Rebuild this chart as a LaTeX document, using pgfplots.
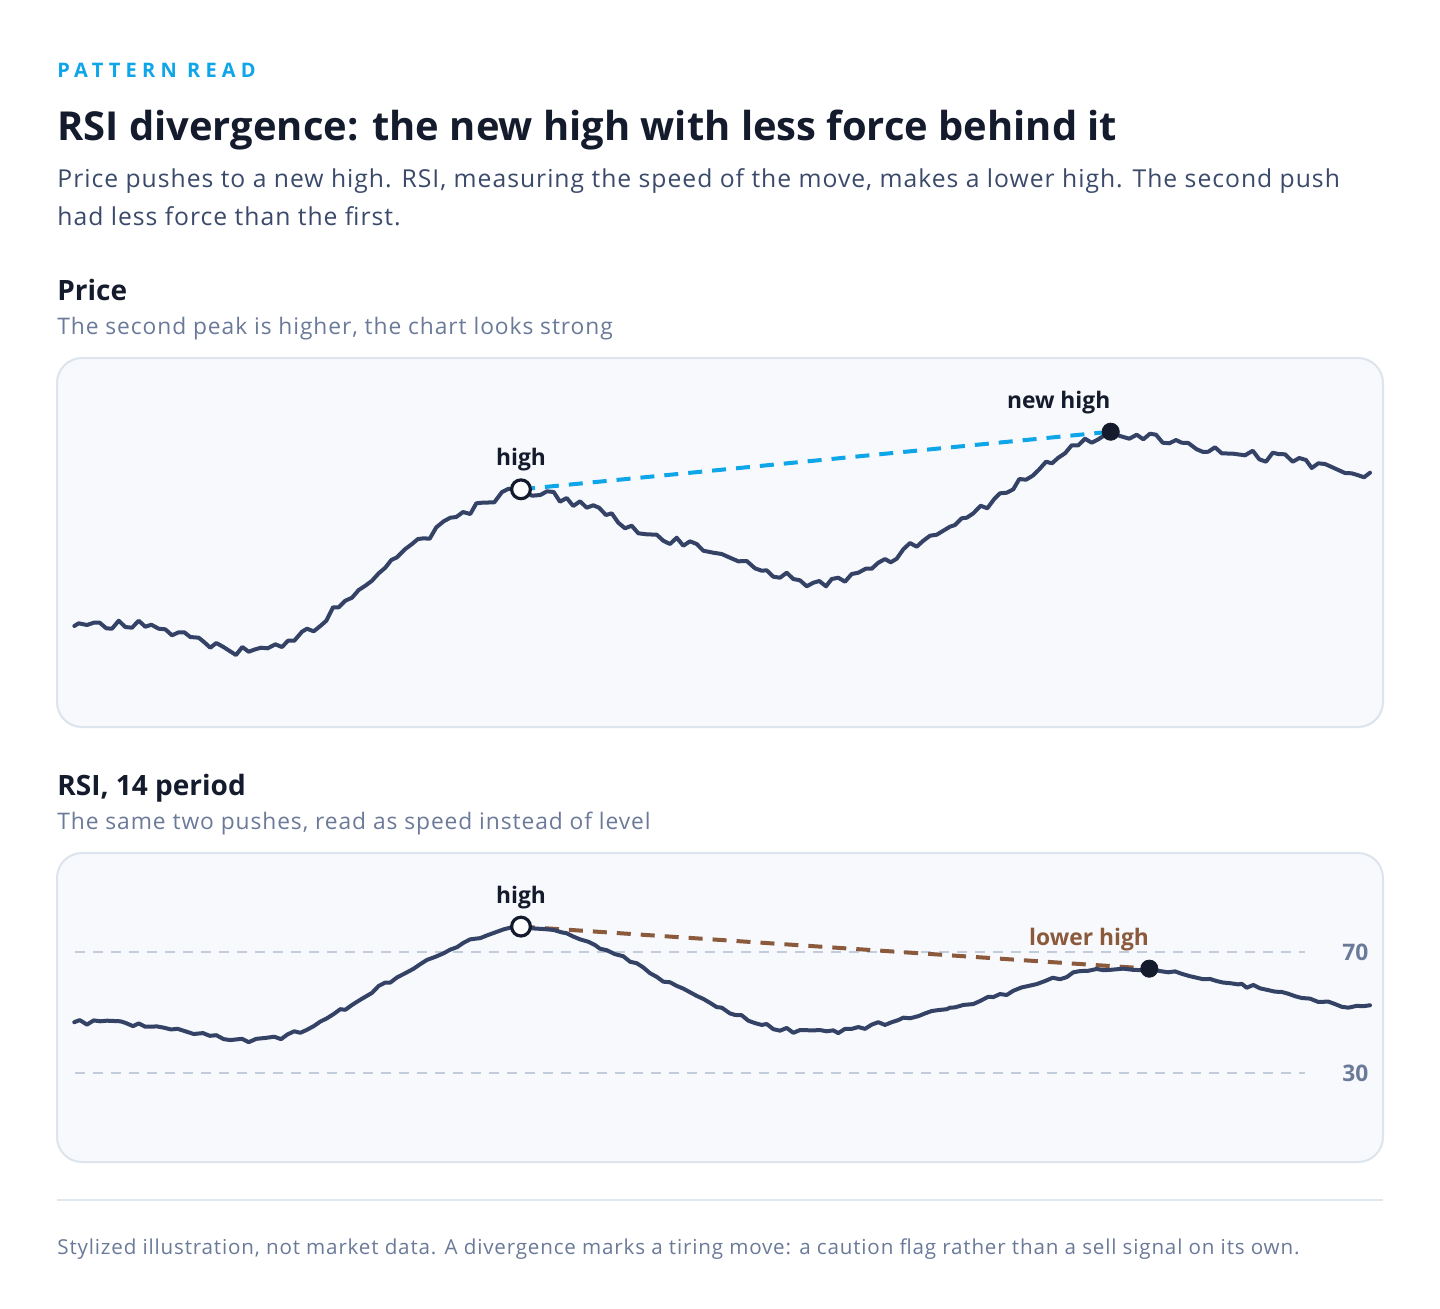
\documentclass[border=0pt]{standalone}
\usepackage{fontspec}
\setmainfont{Open Sans}
\newfontfamily\spacedfont[LetterSpace=26]{Open Sans}
\newfontfamily\trackfont[LetterSpace=4]{Open Sans}
\usepackage{pgfplots}
\pgfplotsset{compat=1.18}
\definecolor{accent}{HTML}{0EA5E9}
\definecolor{titlec}{HTML}{141B2D}
\definecolor{subc}{HTML}{3B4A6B}
\definecolor{mutedc}{HTML}{6B7A99}
\definecolor{linec}{HTML}{344266}
\definecolor{markc}{HTML}{141B2D}
\definecolor{brownc}{HTML}{8B5A3C}
\definecolor{refc}{HTML}{C2CBDA}
\definecolor{panelbg}{HTML}{F7F9FC}
\definecolor{panelbd}{HTML}{DDE4EE}
\definecolor{sepc}{HTML}{E2E8F0}

\pgfplotstableread{
x y
74.3 101.0
78.7 103.7
87 102
93.7 104.3
99.7 104.3
106.3 98.7
112 98.3
118.7 106.3
125.3 100
132 99.3
138.7 106.3
145.3 100.3
151.3 102.3
158.7 98.3
165.3 97.7
172 91.7
178.7 94.7
184.3 94.7
190.3 90
198.7 89.3
203.7 85.3
210.3 79.3
216.3 84
223 80.3
229.7 76
236 72
242.3 80
248.7 75.3
255.3 77.7
261 79.3
267.7 78.7
275.3 82.7
282 80
288 86.3
294.3 86.3
302 95.3
307 98.3
313.7 95.7
320.3 101
326.3 106.3
333 119.7
338.7 119.7
345.3 126.3
352 129.3
358.7 137
365.3 141.3
372 146.3
378.7 153.7
385.3 159.3
391.3 167
397 169.7
405.3 178
412 183
418 188
423.7 188.7
429.7 188.3
436.3 199.7
443.7 205.7
450.3 209.3
456.3 210
463 215
470.3 213
476.3 223.7
482 224.3
494.3 224.7
502 235
508.7 238.3
515.3 237
521 237.7
532 231.3
540.3 232
547 235.7
553.7 235
560 225.3
566.7 229
573.3 221
580 225.7
586.7 219.3
593.3 221.7
599 219.3
606 212
611.7 213.7
618.3 204.3
625 198.7
631.7 201.3
638.3 193.7
646.7 192.7
656.7 192.3
663.3 186.3
670 183
676.7 189.3
683.3 181.3
690 185.7
696.7 183
703.3 176.3
713.3 174.3
721.7 173
730 169.3
738.3 165.7
746.7 166
755 158.7
761.7 156.3
766.7 156.7
773.3 150.3
780 149.3
786.7 154.3
793.3 148
800 146.7
806.7 140.7
813.3 144.3
819.3 146
826 140.7
831.7 148
838.3 149.3
845 145.3
851.7 153
858.3 154.3
865.7 158.3
871.7 158.3
878.3 164.3
885 168
890.7 164.7
896.7 168.3
903.3 177.7
910 184
916.7 180.3
923.3 186.3
930 191.3
936.7 192.3
943.3 196.3
950 200.3
955 202
961.7 208.7
966.7 209.3
973.3 213.7
980.7 221.3
987.3 218.7
994 227.7
1000 233.7
1006.7 234.3
1013.3 237.7
1019.3 248
1026 247.3
1032.7 251.3
1039.3 257.7
1046 265.3
1052 263.7
1058.3 269.3
1065 273.7
1071.7 281.7
1078.3 281.7
1085 288.3
1091.7 284.3
1098.3 287.7
1105 292
1110.7 295.3
1120 291
1129.3 288.3
1136.7 292.3
1143.3 287.7
1150 293.3
1156 292.3
1162.7 284.3
1169.3 283.7
1176 287
1181.7 284.3
1188.3 284
1196.7 277.7
1203.3 275
1208.3 275.3
1215 279.7
1221.7 273.7
1233.3 273.3
1245 271.7
1252.7 276.3
1259.3 267.7
1266 265.3
1272.7 274.3
1278.3 273
1285 272.7
1292.7 265.3
1299.3 269
1306 267
1311.7 259
1318.3 263.7
1325 263
1331.7 260
1338.3 257
1345 254
1351.7 253.7
1358.3 251.7
1364 249.7
1370 254.3
}\pricetable

\pgfplotstableread{
x y
74.3 46.8
79.7 47.5
87 46.0
93.7 47.4
100.3 47.1
107 47.3
120.3 47.1
125.3 46.6
133 45.5
138.7 46.4
145.3 45.3
157 45.4
163.7 45.0
171 44.4
177.7 44.6
185.3 43.8
193.7 42.9
203 43.2
209.7 42.3
216.3 42.5
223.7 41.2
230.3 40.9
242 41.3
248.7 40.2
256.3 41.3
265.3 41.6
274.3 42.0
281 41.2
287.7 42.8
294.3 43.8
300.3 43.3
307 44.3
313.7 45.5
320.3 47.0
327 48.1
333.7 49.5
340.3 51.1
345.3 50.9
352 52.5
358.7 53.9
365.3 55.2
372 56.5
378.7 58.8
385.3 59.9
390.3 59.9
397 61.6
405.3 63.0
413.7 64.5
420.3 66.0
427 67.4
435.3 68.4
443.7 69.6
450.3 70.8
457 71.6
463.7 73.1
470.3 74.2
480.3 74.6
487 75.5
495.3 76.5
503.7 77.5
512 78.2
521 78.4
533.5 77.8
543.5 77.6
553.5 77.3
561.7 76.5
566.7 76.2
573.3 75.1
580 74.2
588.3 73.4
595 72.3
600 71.1
606.7 70.6
615 69.3
623.3 68.6
630 66.8
636.7 66.3
643.3 64.9
650 63.0
656.7 61.8
663.3 60.2
670 60.0
676.7 58.8
683.3 57.9
690 56.7
696.7 55.5
703.3 54.5
710 53.2
716.7 51.8
721.7 51.6
730 49.7
735 49.2
741.7 49.1
748.3 47.3
755 46.5
761.7 45.9
766.7 46.2
773.3 44.5
780 44.0
786.7 44.9
793.3 43.3
800 44.2
813.3 44.1
820 44.2
826.7 43.8
833.3 44.1
838.3 43.2
845 44.6
851.7 44.6
858.3 45.2
865 44.6
871.7 46.0
878.3 46.8
885 45.9
891.7 46.8
898.3 47.5
903.3 48.3
910 48.1
918.3 48.8
925 49.7
931.7 50.5
938.3 50.8
946.7 51.1
950 51.6
955 51.7
963.3 52.5
973.3 52.8
980 53.8
988.3 55.2
993.3 55.1
1000 56.1
1006.7 55.8
1013.3 57.2
1021.7 58.3
1030 58.9
1036.7 59.4
1045 60.4
1052.7 61.5
1060 61.0
1066.7 61.7
1073.3 63.3
1080 63.7
1088.3 63.8
1096.7 64.4
1103.3 64.0
1110 64.1
1116.7 64.3
1123.3 64.5
1133.3 64.1
1141.7 64.0
1149.3 64.5
1160 63.7
1168.3 63.3
1175 63.6
1181.7 62.8
1190 62.0
1196.7 61.5
1203.3 61.0
1210 61.1
1216.7 60.4
1223.3 59.9
1230 59.7
1238.3 59.3
1241.7 59.5
1246.7 58.2
1253.3 59.1
1260 58.0
1268.3 57.4
1275 56.9
1281.7 56.8
1288.3 56.2
1295 55.4
1301.7 54.8
1310 54.6
1318.3 53.5
1328.3 53.6
1335 52.8
1341.7 51.9
1348.3 51.6
1356.7 52.2
1363.3 52.1
1370 52.4
}\rsitable

\begin{document}
\begin{tikzpicture}
\path[fill=white,use as bounding box] (0pt,0pt) rectangle (720pt,-654pt);
% header texts
\node[anchor=base west,inner sep=0,text=accent,font=\spacedfont\bfseries\fontsize{10}{12}\selectfont] at (28.5pt,-38.5pt) {PATTERN READ};
\node[anchor=base west,inner sep=0,text=titlec,font=\bfseries\fontsize{19.95}{24}\selectfont] at (28.5pt,-70pt) {RSI divergence: the new high with less force behind it};
\node[anchor=base west,inner sep=0,text=subc,font=\trackfont\fontsize{12.35}{15}\selectfont] at (28.5pt,-93.5pt) {Price pushes to a new high. RSI, measuring the speed of the move, makes a lower high. The second push};
\node[anchor=base west,inner sep=0,text=subc,font=\trackfont\fontsize{12.35}{15}\selectfont] at (28.5pt,-112.5pt) {had less force than the first.};
\node[anchor=base west,inner sep=0,text=titlec,font=\bfseries\fontsize{14}{17}\selectfont] at (28.5pt,-150pt) {Price};
\node[anchor=base west,inner sep=0,text=mutedc,font=\trackfont\fontsize{11.4}{14}\selectfont] at (28.5pt,-167pt) {The second peak is higher, the chart looks strong};
\node[anchor=base west,inner sep=0,text=titlec,font=\bfseries\fontsize{14}{17}\selectfont] at (28.5pt,-397.5pt) {RSI, 14 period};
\node[anchor=base west,inner sep=0,text=mutedc,font=\trackfont\fontsize{11.4}{14}\selectfont] at (28.5pt,-414.5pt) {The same two pushes, read as speed instead of level};
\draw[sepc,line width=1pt] (28.5pt,-600pt) -- (691.5pt,-600pt);
\node[anchor=base west,inner sep=0,text=mutedc,font=\trackfont\fontsize{10.3}{13}\selectfont] at (28.5pt,-627pt) {Stylized illustration, not market data. A divergence marks a tiring move: a caution flag rather than a sell signal on its own.};
% panels
\draw[rounded corners=12.5pt,fill=panelbg,draw=panelbd,line width=1pt] (28.5pt,-179pt) rectangle (691.5pt,-363.5pt);
\draw[rounded corners=12.5pt,fill=panelbg,draw=panelbd,line width=1pt] (28.5pt,-426.5pt) rectangle (691.5pt,-581pt);

% Price axis
\begin{axis}[at={(28.5pt,-363.5pt)},anchor=south west,width=663pt,height=184.5pt,scale only axis,
  xmin=57,xmax=1383,ymin=0,ymax=369,hide axis,clip=false]
\addplot[accent,line width=2pt,dash pattern=on 7pt off 5pt] coordinates {(521,237.7) (1110.7,295.3)};
\addplot[linec,line width=2pt,line join=round,line cap=round] table[x=x,y=y] {\pricetable};
\addplot[only marks,mark=*,mark size=4.7pt,mark options={fill=white,draw=markc,line width=1.6pt}] coordinates {(521,237.7)};
\addplot[only marks,mark=*,mark size=4.3pt,mark options={fill=markc,draw=markc}] coordinates {(1110.7,295.3)};
\node[anchor=base,inner sep=0,text=titlec,font=\bfseries\fontsize{11.4}{14}\selectfont] at (axis cs:521,262) {high};
\node[anchor=base east,inner sep=0,text=titlec,font=\bfseries\fontsize{11.4}{14}\selectfont] at (axis cs:1110.7,319) {new high};
\end{axis}

% RSI axis
\begin{axis}[at={(28.5pt,-581pt)},anchor=south west,width=663pt,height=154.5pt,scale only axis,
  xmin=57,xmax=1383,ymin=0.58,ymax=102.73,hide axis,clip=false]
\addplot[refc,line width=1pt,dash pattern=on 5pt off 4pt] coordinates {(75,70) (1305,70)};
\addplot[refc,line width=1pt,dash pattern=on 5pt off 4pt] coordinates {(75,30) (1305,30)};
\node[anchor=west,inner sep=0,text=mutedc,font=\bfseries\fontsize{11.4}{14}\selectfont] at (axis cs:1342,70) {70};
\node[anchor=west,inner sep=0,text=mutedc,font=\bfseries\fontsize{11.4}{14}\selectfont] at (axis cs:1342,30) {30};
\addplot[brownc,line width=2pt,dash pattern=on 7pt off 5pt] coordinates {(521,78.4) (1149.3,64.5)};
\addplot[linec,line width=2pt,line join=round,line cap=round] table[x=x,y=y] {\rsitable};
\addplot[only marks,mark=*,mark size=4.7pt,mark options={fill=white,draw=markc,line width=1.6pt}] coordinates {(521,78.4)};
\addplot[only marks,mark=*,mark size=4.3pt,mark options={fill=markc,draw=markc}] coordinates {(1149.3,64.5)};
\node[anchor=base,inner sep=0,text=titlec,font=\bfseries\fontsize{11.4}{14}\selectfont] at (axis cs:521,86.2) {high};
\node[anchor=base east,inner sep=0,text=brownc,font=\bfseries\fontsize{11.4}{14}\selectfont] at (axis cs:1149.3,72.3) {lower high};
\end{axis}
\end{tikzpicture}
\end{document}
